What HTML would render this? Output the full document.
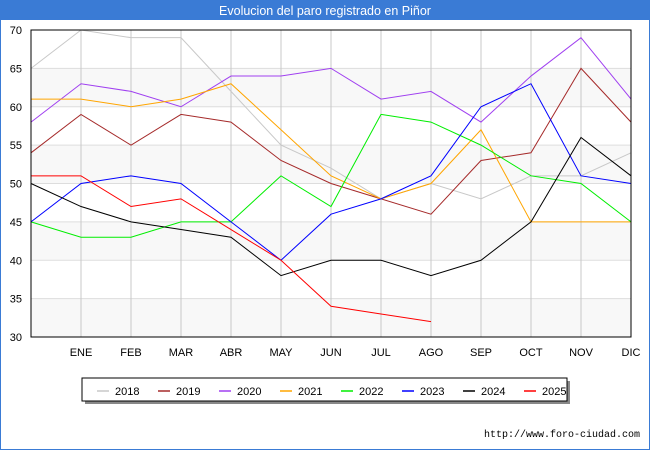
<!DOCTYPE html>
<html><head><meta charset="utf-8"><style>
body{margin:0;width:650px;height:450px;background:#fff;font-family:"Liberation Sans","DejaVu Sans",sans-serif;overflow:hidden}
</style></head><body>
<svg width="650" height="450" style="position:absolute;left:0;top:0">
<rect x="0" y="0" width="650" height="450" fill="#fff"/>
<rect x="0" y="0" width="650" height="20" fill="#3a7bd5"/>
<rect x="0" y="0" width="650" height="450" fill="none" stroke="#3a7bd5" stroke-width="2"/>
<text x="325" y="15" text-anchor="middle" fill="#fff" font-size="12.5">Evolucion del paro registrado en Piñor</text>
<g id="bands"></g><g id="grid"></g><g id="series"></g>
<rect x="31" y="30" width="600" height="307" fill="none" stroke="#000" stroke-width="1"/>
<g id="yt"></g><g id="xt"></g>
<rect x="85" y="381" width="485" height="23" fill="#888"/>
<rect x="82" y="378" width="485" height="23" fill="#fff" stroke="#000"/>
<g id="leg"></g>
<text x="640" y="437" text-anchor="end" font-size="10" font-family="Liberation Mono, monospace" fill="#000">http://www.foro-ciudad.com</text>
</svg>
<script>
const months=["","ENE","FEB","MAR","ABR","MAY","JUN","JUL","AGO","SEP","OCT","NOV","DIC"];
const yTicks=[30,35,40,45,50,55,60,65,70];
const years=["2018","2019","2020","2021","2022","2023","2024","2025"];
const colors=["#c8c8c8","#a52a2a","#a040f0","#ffa500","#00ee00","#0000ff","#000000","#ff0000"];
const s2018=[65,70,69,69,62,55,52,48,50,48,51,51,54];
const s2019=[54,59,55,59,58,53,50,48,46,53,54,65,58];
const s2020=[58,63,62,60,64,64,65,61,62,58,64,69,61];
const s2021=[61,61,60,61,63,57,51,48,50,57,45,45,45];
const s2022=[45,43,43,45,45,51,47,59,58,55,51,50,45];
const s2023=[45,50,51,50,45,40,46,48,51,60,63,51,50];
const s2024=[50,47,45,44,43,38,40,40,38,40,45,56,51];
const s2025=[51,51,47,48,44,40,34,33,32];
const all=[s2018,s2019,s2020,s2021,s2022,s2023,s2024,s2025];
const NS="http://www.w3.org/2000/svg";
const X=i=>31+i*50, Y=v=>337-(v-30)*307/40;
function mk(t,a,p){const e=document.createElementNS(NS,t);for(const k in a)e.setAttribute(k,a[k]);document.getElementById(p).appendChild(e);return e;}
for(let i=0;i<yTicks.length-1;i++){if(i%2==0){const e=mk('rect',{x:31,y:Y(yTicks[i+1]),width:600,height:Y(yTicks[i])-Y(yTicks[i+1]),fill:'#f8f8f8'},'bands');

}}
yTicks.forEach(v=>{const l=mk('line',{x1:31,x2:631,y1:Y(v),y2:Y(v),stroke:'#ddd'},'grid');


const t=mk('text',{x:22,y:Y(v)+4,'text-anchor':'end','font-size':11},'yt');t.textContent=v;

});
months.forEach((m,i)=>{if(i==0)return;const l=mk('line',{x1:X(i),x2:X(i),y1:30,y2:337,stroke:'#c8c8c8'},'grid');


const t=mk('text',{x:X(i),y:356,'text-anchor':'middle','font-size':11},'xt');t.textContent=m;

});
all.forEach((s,k)=>{const p=mk('polyline',{points:s.map((v,i)=>X(i)+','+Y(v)).join(' '),fill:'none',stroke:colors[k],'stroke-width':1},'series');

});
years.forEach((y,k)=>{const x0=97+k*61;const l=mk('line',{x1:x0,x2:x0+12,y1:391,y2:391,stroke:colors[k],'stroke-width':1.5},'leg');


const t=mk('text',{x:x0+18,y:395,'font-size':11},'leg');t.textContent=y;

});
</script>
</body></html>
